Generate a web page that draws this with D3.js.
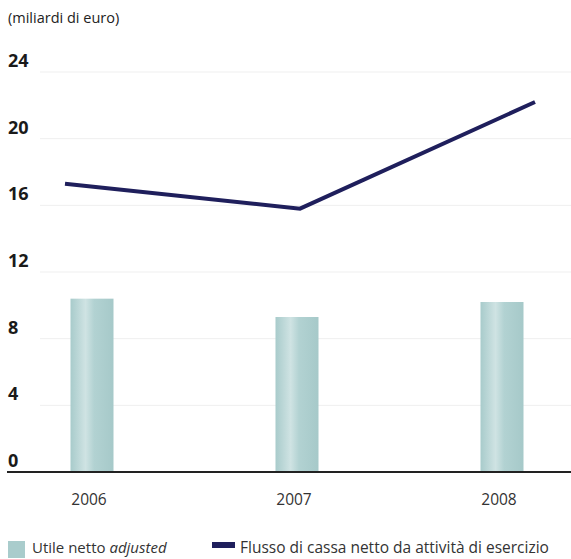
<!DOCTYPE html>
<html><head><meta charset="utf-8">
<script src="https://cdn.jsdelivr.net/npm/d3@7"></script>
<style>body{margin:0;background:#fff}svg{display:block;font-family:"Open Sans",sans-serif}</style>
</head><body><svg id="c" width="571" height="559"></svg>
<script>
const years = ["2006","2007","2008"];
const utileNetto = [10.4, 9.3, 10.2];
const flussoCassa = [17.3, 15.8, 22.2];
const yTicks = [0,4,8,12,16,20,24];
const unitLabel = "(miliardi di euro)";
const legendBar = ["Utile netto ", "adjusted"];
const legendLine = "Flusso di cassa netto da attività di esercizio";

const svg = d3.select("#c");
const y = d3.scaleLinear().domain([0,24]).range([472,72]);
const xBar = d3.scalePoint().domain(years).range([92,502]);
const xLine = d3.scalePoint().domain(years).range([65,535]);
const barW = 43;

const defs = svg.append("defs");
const g = defs.append("linearGradient").attr("id","bg").attr("x1","0").attr("x2","1");
g.append("stop").attr("offset","0").attr("stop-color","#a8cbcb");
g.append("stop").attr("offset","0.35").attr("stop-color","#cfe3e3");
g.append("stop").attr("offset","0.55").attr("stop-color","#b2d2d2");
g.append("stop").attr("offset","1").attr("stop-color","#a6c9c9");

svg.append("text").attr("x",8).attr("y",23).attr("font-size",14.5).attr("fill","#222").text(unitLabel);

// gridlines
svg.append("g").selectAll("line").data(yTicks.filter(d=>d>0)).join("line")
  .attr("x1",40).attr("x2",571).attr("y1",d=>y(d)).attr("y2",d=>y(d))
  .attr("stroke","#efefef").attr("stroke-width",1);

// tick labels
svg.append("g").selectAll("text").data(yTicks).join("text")
  .attr("x",8).attr("y",d=>y(d)-5).attr("font-size",18).attr("font-weight","bold").attr("fill","#1a1a1a")
  .text(d=>d);

// bars
svg.append("g").selectAll("rect").data(utileNetto).join("rect")
  .attr("x",(d,i)=>xBar(years[i])-barW/2).attr("width",barW)
  .attr("y",d=>y(d)).attr("height",d=>y(0)-y(d)).attr("fill","url(#bg)");

// axis
svg.append("line").attr("x1",7).attr("x2",571).attr("y1",y(0)).attr("y2",y(0)).attr("stroke","#222").attr("stroke-width",2);

// year labels
svg.append("g").selectAll("text").data(years).join("text")
  .attr("x",d=>xBar(d)-3).attr("y",505).attr("text-anchor","middle").attr("font-size",15.5).attr("fill","#333").text(d=>d);

// line
const line = d3.line().x((d,i)=>xLine(years[i])).y(d=>y(d));
svg.append("path").datum(flussoCassa).attr("d",line).attr("fill","none")
  .attr("stroke","#1f1f5c").attr("stroke-width",4).attr("stroke-linejoin","miter");

// legend
svg.append("rect").attr("x",8).attr("y",541).attr("width",17).attr("height",17).attr("fill","#a9cccc");
const t1 = svg.append("text").attr("x",32).attr("y",553).attr("font-size",15).attr("fill","#333");
t1.append("tspan").text(legendBar[0]);
t1.append("tspan").attr("font-style","italic").text(legendBar[1]);
svg.append("rect").attr("x",212).attr("y",542).attr("width",23).attr("height",6).attr("fill","#1f1f5c");
svg.append("text").attr("x",240).attr("y",553).attr("font-size",15.5).attr("fill","#333").text(legendLine);
</script></body></html>
